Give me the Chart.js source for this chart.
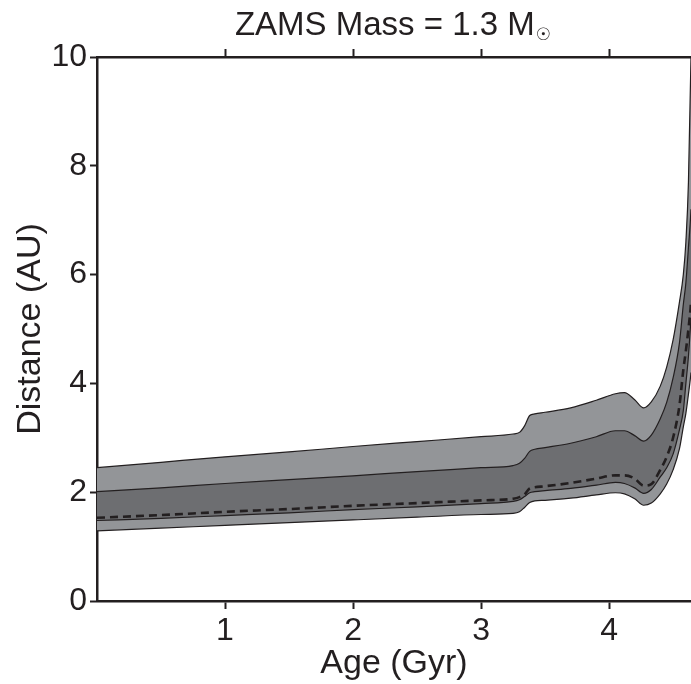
<!DOCTYPE html>
<html>
<head>
<meta charset="utf-8">
<script src="https://cdn.jsdelivr.net/npm/chart.js@4"></script>
<style>
  body { margin: 0; background: #fff; }
</style>
</head>
<body>
<canvas id="myChart" width="691" height="684"></canvas>
<script>
const ages = [0, 0.5, 1, 1.5, 2, 2.5, 3, 3.25, 3.3, 3.34, 3.38, 3.42, 3.5, 3.7, 3.9, 4.05, 4.12, 4.2, 4.27, 4.33, 4.4, 4.45, 4.5, 4.55, 4.58, 4.6, 4.62, 4.64, 4.66];
const outerUpper = [2.45, 2.55, 2.65, 2.74, 2.84, 2.93, 3.02, 3.07, 3.10, 3.22, 3.41, 3.44, 3.47, 3.55, 3.69, 3.81, 3.83, 3.70, 3.55, 3.66, 3.95, 4.3, 4.8, 5.5, 6.0, 6.6, 7.7, 10.0, 13];
const innerUpper = [2.01, 2.08, 2.16, 2.23, 2.30, 2.38, 2.45, 2.49, 2.53, 2.62, 2.75, 2.79, 2.82, 2.90, 3.02, 3.13, 3.13, 3.04, 2.94, 3.05, 3.35, 3.65, 4.1, 4.75, 5.45, 5.85, 6.5, 7.2, 8.5];
const median = [1.53, 1.58, 1.64, 1.69, 1.75, 1.80, 1.85, 1.88, 1.91, 1.96, 2.07, 2.09, 2.11, 2.17, 2.25, 2.31, 2.31, 2.25, 2.12, 2.15, 2.41, 2.65, 3.0, 3.6, 4.25, 4.6, 5.0, 5.5, 6.5];
const innerLower = [1.48, 1.52, 1.57, 1.62, 1.68, 1.73, 1.79, 1.83, 1.86, 1.92, 1.99, 2.01, 2.03, 2.07, 2.13, 2.18, 2.16, 2.08, 1.98, 2.05, 2.28, 2.45, 2.7, 3.15, 3.5, 4.0, 4.5, 5.2, 6.0];
const outerLower = [1.29, 1.34, 1.39, 1.44, 1.49, 1.54, 1.59, 1.61, 1.64, 1.72, 1.81, 1.84, 1.85, 1.89, 1.95, 1.99, 1.97, 1.88, 1.76, 1.80, 1.97, 2.15, 2.41, 2.8, 3.2, 3.45, 3.8, 4.2, 4.8];
const xTicks = [1, 2, 3, 4];
const yTicks = [0, 2, 4, 6, 8, 10];

const ink = "#231f20";
const font = "'Liberation Sans', Arial, Helvetica, sans-serif";
const titleMain = "ZAMS Mass = 1.3 M";
const titleSub = "\u2609";

function pts(vals) {
  return ages.map((a, i) => ({ x: a, y: vals[i] }));
}

function lineSet(label, vals, extra) {
  return Object.assign({
    label: label,
    data: pts(vals),
    borderColor: ink,
    borderWidth: 1.2,
    pointRadius: 0,
    cubicInterpolationMode: "monotone",
    fill: false,
  }, extra);
}

// draws the small subscript sun symbol after the title text
const sunSub = {
  id: "sunSub",
  afterDraw(chart) {
    const t = chart.titleBlock;
    if (!t) return;
    const c = chart.ctx;
    const f = t.options.font;
    c.save();
    c.font = `${f.size}px ${font}`;
    const full = c.measureText(t.options.text).width;
    const main = c.measureText(titleMain).width;
    const cx = (t.left + t.right) / 2;
    const startX = cx - full / 2;
    const midY = t.top + t.options.padding.top + (f.size * 1.2) / 2;
    c.font = `17px 'DejaVu Sans', sans-serif`;
    c.fillStyle = ink;
    c.textBaseline = "middle";
    c.textAlign = "left";
    c.fillText(titleSub, startX + main + 1, midY + 10);
    c.restore();
  },
};

const ctx = document.getElementById("myChart").getContext("2d");
const chart = new Chart(ctx, {
  type: "line",
  data: {
    datasets: [
      lineSet("Median", median, { borderWidth: 2.6, borderDash: [8, 5] }),
      lineSet("Inner upper", innerUpper, { fill: "+1", backgroundColor: "#6d6e71" }),
      lineSet("Inner lower", innerLower),
      lineSet("Outer upper", outerUpper, { fill: "+1", backgroundColor: "#939598" }),
      lineSet("Outer lower", outerLower),
    ],
  },
  options: {
    responsive: false,
    animation: false,
    layout: { padding: 0 },
    plugins: {
      legend: { display: false },
      tooltip: { enabled: false },
      filler: { drawTime: "beforeDatasetsDraw" },
      title: {
        display: true,
        fullSize: false,
        text: titleMain + "  ",
        color: ink,
        font: { family: font, size: 33, weight: "normal" },
        padding: { top: 6, bottom: 3.4 },
      },
    },
    scales: {
      x: {
        type: "linear",
        position: "bottom",
        min: 0,
        max: 4.64,
        afterBuildTicks: (s) => { s.ticks = xTicks.map((v) => ({ value: v })); },
        afterFit: (s) => { s.height = 83; },
        ticks: { color: ink, font: { family: font, size: 32 }, padding: 3, maxRotation: 0 },
        grid: { drawOnChartArea: false, color: ink, tickLength: 8, tickWidth: 2 },
        border: { color: ink, width: 2.5 },
        title: { display: true, text: "Age (Gyr)", color: ink, font: { family: font, size: 34 }, padding: { top: 0, bottom: 0 } },
      },
      xTop: {
        type: "linear",
        position: "top",
        min: 0,
        max: 4.64,
        afterBuildTicks: (s) => { s.ticks = xTicks.map((v) => ({ value: v })); },
        afterFit: (s) => { s.height = 8; },
        ticks: { display: false },
        grid: { drawOnChartArea: false, color: ink, tickLength: 8, tickWidth: 2 },
        border: { color: ink, width: 2.5 },
      },
      y: {
        min: 0,
        max: 10,
        afterBuildTicks: (s) => { s.ticks = yTicks.map((v) => ({ value: v })); },
        afterFit: (s) => { s.width = 97; },
        ticks: { color: ink, font: { family: font, size: 32 }, padding: 3 },
        grid: { drawOnChartArea: false, color: ink, tickLength: 7, tickWidth: 2 },
        border: { color: ink, width: 2.5 },
        title: { display: true, text: "Distance (AU)", color: ink, font: { family: font, size: 34 }, padding: { top: 10, bottom: 0 } },
      },
    },
  },
  plugins: [sunSub],
});
</script>
</body>
</html>
